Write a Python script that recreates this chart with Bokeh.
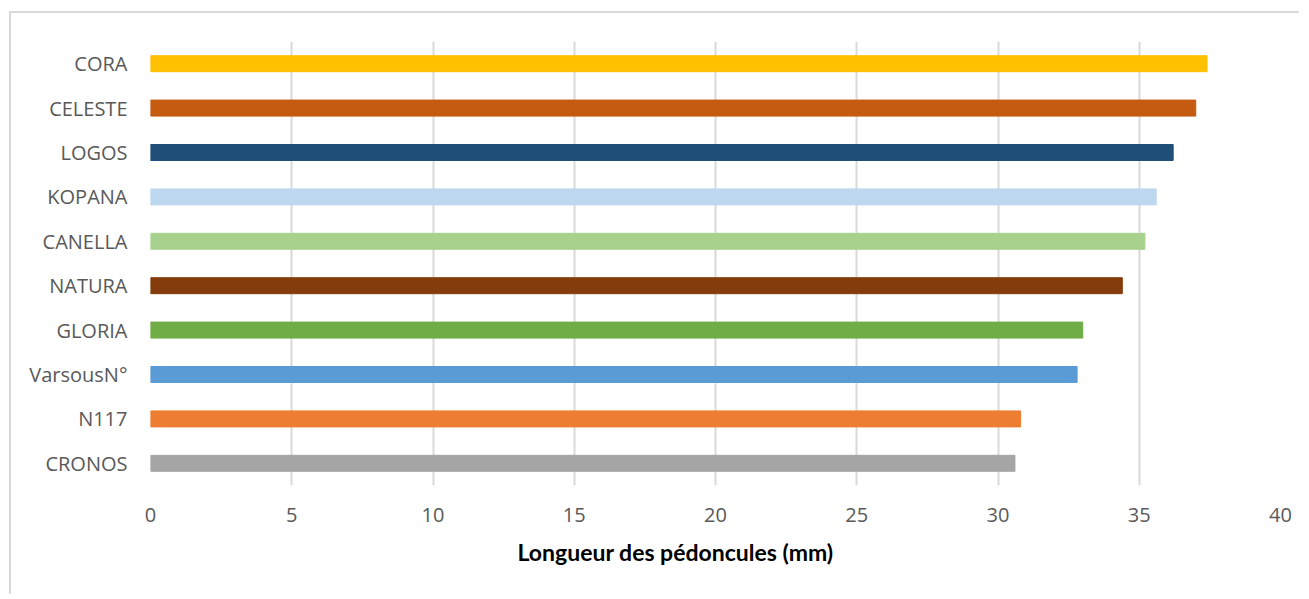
from bokeh.plotting import figure
from bokeh.models import ColumnDataSource, FixedTicker, Title
from bokeh.embed import file_html
from bokeh.resources import INLINE

varieties = ["CRONOS", "N117", "VarsousN°", "GLORIA", "NATURA",
             "CANELLA", "KOPANA", "LOGOS", "CELESTE", "CORA"]
lengths = [30.6, 30.8, 32.8, 33.0, 34.4, 35.2, 35.6, 36.2, 37.0, 37.4]
colors = ["#A5A5A5", "#ED7D31", "#5B9BD5", "#70AD47", "#843C0C",
          "#A9D18E", "#BDD7EE", "#1F4E79", "#C55A11", "#FFC000"]
x_ticks = [0, 5, 10, 15, 20, 25, 30, 35, 40]
x_title = "Longueur des pédoncules (mm)"

src = ColumnDataSource(dict(variety=varieties, length=lengths, color=colors))

p = figure(y_range=varieties, x_range=(0, 40), width=1290, height=583,
           output_backend="svg", toolbar_location=None,
           min_border_left=139, min_border_right=21, min_border_top=28,
           min_border_bottom=111,
           styles={"border-top": "2px solid #d9d9d9",
                   "border-left": "2px solid #d9d9d9",
                   "margin-left": "9px", "margin-top": "11px"})

p.hbar(y="variety", right="length", left=0, height=0.36, color="color",
       source=src)

p.outline_line_color = None
p.xaxis.ticker = FixedTicker(ticks=x_ticks)
p.xaxis.axis_line_color = None
p.yaxis.axis_line_color = None
p.xaxis.major_tick_line_color = None
p.yaxis.major_tick_line_color = None
p.xaxis.minor_tick_line_color = None
p.yaxis.minor_tick_line_color = None
p.xaxis.major_label_standoff = 16
p.yaxis.major_label_standoff = 17
for ax in (p.xaxis, p.yaxis):
    ax.major_label_text_font = "Open Sans"
    ax.major_label_text_font_size = "20px"
    ax.major_label_text_color = "#595959"

t = Title(text=x_title, align="left", offset=367, standoff=22,
          text_font="Lato", text_font_style="bold",
          text_font_size="23px", text_color="#000000")
p.add_layout(t, "below")

p.xgrid.grid_line_color = "#d9d9d9"
p.xgrid.grid_line_width = 2
p.ygrid.grid_line_color = None
p.y_range.range_padding = 0

open("out.html", "w").write(file_html(p, INLINE))
